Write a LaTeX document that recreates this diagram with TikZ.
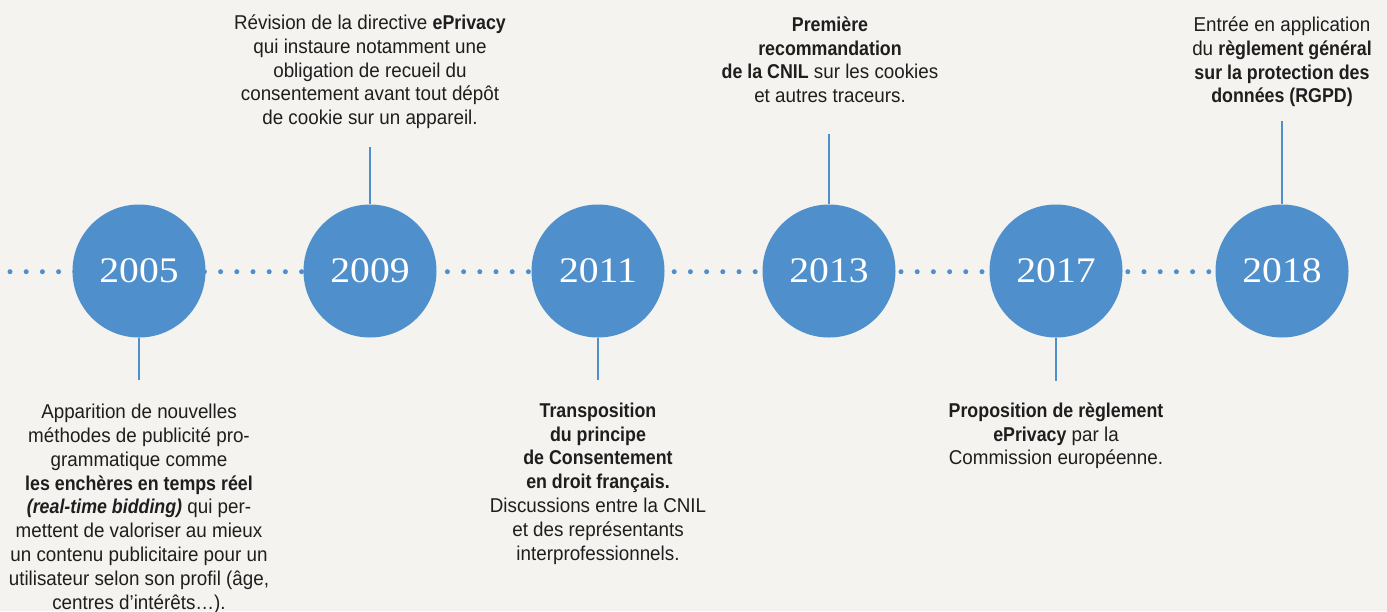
\documentclass[tikz,border=0pt]{standalone}
\usepackage{fontspec}
\setmainfont{Liberation Sans}[
  UprightFeatures={FakeStretch=0.94},
  BoldFeatures={FakeStretch=0.89},
  ItalicFeatures={FakeStretch=0.94},
  BoldItalicFeatures={FakeStretch=0.89}]
\newfontfamily\yearfont{Liberation Serif}[FakeStretch=1.1]
\definecolor{paper}{HTML}{F4F3EF}
\definecolor{tlblue}{HTML}{4F8FCC}
\definecolor{ink}{HTML}{1E1E1E}
\begin{document}
\begin{tikzpicture}[x=1pt,y=-1pt,
  year/.style={circle, fill=tlblue, minimum size=133pt, inner sep=0pt,
    text=white, font=\yearfont\fontsize{36}{36}\selectfont},
  event/.style={align=center, inner sep=0pt, anchor=north, text=ink,
    font=\fontsize{20}{23.8}\selectfont},
  stem/.style={draw=tlblue, line width=2.6pt}]
  % page
  \fill[paper] (0,0) rectangle (1387,611);
  \useasboundingbox (0,0) rectangle (1387,611);
  % dotted time axis, behind the year discs
  \foreach \k in {0,...,74}
    \fill[tlblue] ({10+16.2*\k},271.7) circle (2.5pt);
  % year discs
  \node[year] (y2005) at (139,271) {2005};
  \node[year] (y2009) at (370,271) {2009};
  \node[year] (y2011) at (598,271) {2011};
  \node[year] (y2013) at (829,271) {2013};
  \node[year] (y2017) at (1056,271) {2017};
  \node[year] (y2018) at (1282,271) {2018};
  % free ends of the stems
  \coordinate (e2005) at (139,380);
  \coordinate (e2009) at (370,147);
  \coordinate (e2011) at (598,380);
  \coordinate (e2013) at (829,134);
  \coordinate (e2017) at (1056,381);
  \coordinate (e2018) at (1282,121);
  \draw[stem] (y2005.south) -- (e2005);
  \draw[stem] (y2009.north) -- (e2009);
  \draw[stem] (y2011.south) -- (e2011);
  \draw[stem] (y2013.north) -- (e2013);
  \draw[stem] (y2017.south) -- (e2017);
  \draw[stem] (y2018.north) -- (e2018);
  % events
  \node[event] (t2005) at (139,404) {Apparition de nouvelles\\
    méthodes de publicité pro-\\
    grammatique comme\\
    \textbf{les enchères en temps réel}\\
    \textbf{\textit{(real-time bidding)}} qui per-\\
    mettent de valoriser au mieux\\
    un contenu publicitaire pour un\\
    utilisateur selon son profil (âge,\\
    centres d'intérêts…).};
  \node[event] (t2009) at (370,14.5) {Révision de la directive \textbf{ePrivacy}\\
    qui instaure notamment une\\
    obligation de recueil du\\
    consentement avant tout dépôt\\
    de cookie sur un appareil.};
  \node[event] (t2011) at (598,402.5) {\textbf{Transposition}\\
    \textbf{du principe}\\
    \textbf{de Consentement}\\
    \textbf{en droit français.}\\
    Discussions entre la CNIL\\
    et des représentants\\
    interprofessionnels.};
  \node[event] (t2013) at (830,16.5) {\textbf{Première}\\
    \textbf{recommandation}\\
    \textbf{de la CNIL} sur les cookies\\
    et autres traceurs.};
  \node[event] (t2017) at (1056,402.5) {\textbf{Proposition de règlement}\\
    \textbf{ePrivacy} par la\\
    Commission européenne.};
  \node[event] (t2018) at (1282,16.5) {Entrée en application\\
    du \textbf{règlement général}\\
    \textbf{sur la protection des}\\
    \textbf{données (RGPD)}};
\end{tikzpicture}
\end{document}
